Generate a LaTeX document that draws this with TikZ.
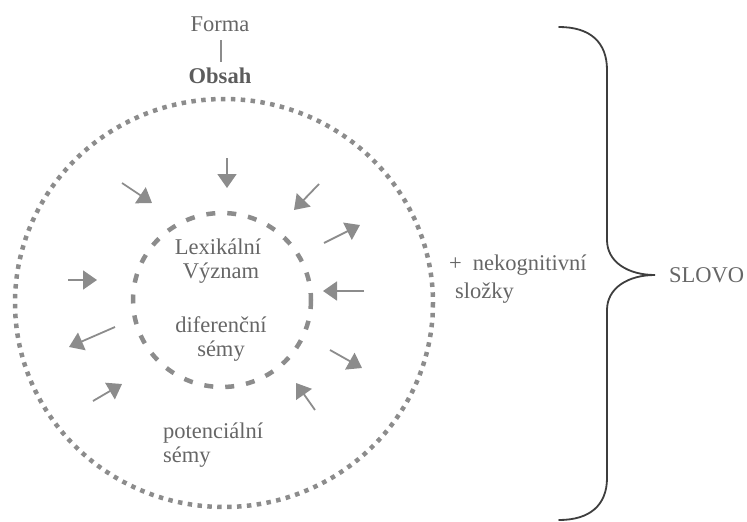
\documentclass[tikz,border=0pt]{standalone}
\usepackage{fontspec}
\setmainfont{Liberation Serif}
\usetikzlibrary{arrows.meta}
\definecolor{txtgray}{HTML}{666666}
\definecolor{markgray}{HTML}{8C8C8C}
\definecolor{bracegray}{HTML}{3E3E3E}
\tikzset{
  lbl/.style={text=txtgray, inner sep=0pt, font=\fontsize{22.5}{26}\selectfont},
  semearrow/.style={draw=markgray, line width=1.8pt,
    -{Triangle[length=14pt,width=19pt,fill=markgray]}},
  outerring/.style={draw=markgray, line width=4.5pt, dash pattern=on 4.5pt off 5.4pt},
  innerring/.style={draw=markgray, line width=4.5pt, dash pattern=on 9pt off 12pt},
  bracestroke/.style={draw=bracegray, line width=1.8pt, line cap=round}
}
\begin{document}
\begin{tikzpicture}[x=1pt,y=-1pt]
\useasboundingbox (0,0) rectangle (747,522);

% form / content header
\node[lbl, anchor=base] (forma) at (220,31) {Forma};
\node[lbl, anchor=base, font=\fontsize{22.5}{26}\selectfont\bfseries, text=txtgray!90!black] (obsah) at (220,83) {Obsah};
\draw[markgray, line width=1.2pt] (221,40) -- (221,62);

% rings
\draw[outerring] (224,303) ellipse [x radius=209, y radius=204];
\draw[innerring] (222,300) ellipse [x radius=89, y radius=87];

% texts inside the rings
\node[lbl, anchor=base] (lex) at (218,254) {Lexikální};
\node[lbl, anchor=base] (vyz) at (221,278) {Význam};
\node[lbl, anchor=base] (dif) at (221,332) {diferenční};
\node[lbl, anchor=base] (sem1) at (221,356) {sémy};
\node[lbl, anchor=base west] (pot) at (163,438) {potenciální};
\node[lbl, anchor=base west] (sem2) at (163,462) {sémy};

% right-hand texts
\node[lbl, anchor=base west] (nekog) at (449,270) {+\kern11pt nekognitivní};
\node[lbl, anchor=base west] (slozky) at (455,298) {složky};
\node[lbl, anchor=base west] (slovo) at (669,282) {SLOVO};

% arrows between the rings
\coordinate (a1s) at (227,158); \coordinate (a1e) at (227,188);
\coordinate (a2s) at (122,183); \coordinate (a2e) at (152,203);
\coordinate (a3s) at (319,184); \coordinate (a3e) at (294,210);
\coordinate (a4s) at (324,243); \coordinate (a4e) at (360,225);
\coordinate (a5s) at (364,291); \coordinate (a5e) at (323,291);
\coordinate (a6s) at (330,350); \coordinate (a6e) at (362,368);
\coordinate (a7s) at (315,410); \coordinate (a7e) at (296,383);
\coordinate (a8s) at (68,280);  \coordinate (a8e) at (97,280);
\coordinate (a9s) at (115,327); \coordinate (a9e) at (69,347);
\coordinate (a10s) at (93,401); \coordinate (a10e) at (122,384);
\foreach \i in {1,...,10}{
  \draw[semearrow] (a\i s) -- (a\i e);
}

% curly brace
\coordinate (btop) at (559,27);
\coordinate (btip) at (655,275);
\coordinate (bbot) at (559,520);
\draw[bracestroke]
  (btop) .. controls (590,27) and (607,42) .. (607,70)
  -- (607,240)
  .. controls (607,262) and (628,275) .. (btip)
  .. controls (628,275) and (607,288) .. (607,310)
  -- (607,478)
  .. controls (607,505) and (590,520) .. (bbot);
\end{tikzpicture}
\end{document}
